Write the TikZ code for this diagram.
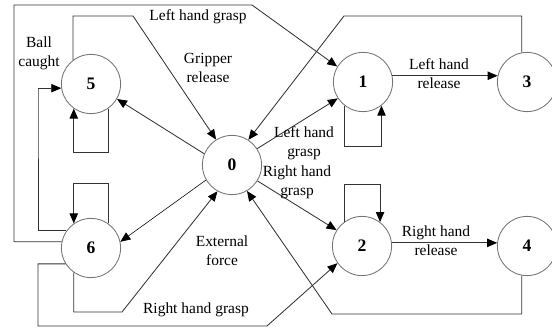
\documentclass[tikz,border=0pt]{standalone}
\usepackage{fontspec}
\setmainfont{Liberation Serif}
\usetikzlibrary{arrows.meta}
\begin{document}
\begin{tikzpicture}[x=0.025cm,y=-0.025cm,
	state/.style={draw=black!55,line width=0.6pt,circle,minimum size=1.48cm,inner sep=0pt,font=\fontsize{12.5}{14}\selectfont\bfseries},
	link/.style={draw=black!80,line width=0.6pt,-{Triangle[length=2.5mm,width=2.1mm,color=black]}},
	lbl/.style={align=center,font=\fontsize{11}{13.5}\selectfont}]
	\useasboundingbox (0,0) rectangle (552,329);
	% states
	\node[state] (s0) at (232,165) {0};
	\node[state] (s1) at (363,82) {1};
	\node[state] (s2) at (362,246) {2};
	\node[state] (s3) at (527,82) {3};
	\node[state] (s4) at (527,246) {4};
	\node[state] (s5) at (91,84) {5};
	\node[state] (s6) at (91,248) {6};
	% corners
	\coordinate (tl) at (14,5);
	\coordinate (tr) at (252,5);
	\coordinate (g1) at (133,16);
	\coordinate (b1) at (38,88);
	\coordinate (h1) at (122,312);
	\coordinate (r1) at (38,326);
	\coordinate (r2) at (267,326);
	\coordinate (f1) at (332,314);
	\coordinate (k1) at (344,16);
	% transitions
	\draw[link] (s6.168) -| (tl) -- (tr) -- (s1.149);
	\draw[link] (s5.127) |- (g1) -- (s0.122);
	\draw[link] (s0.158) -- (s5.-30);
	\draw[link] (s5.-55) -- ++(0,44) -| (s5.-125);
	\draw[link] (s6.145) -| (b1) |- (s5.188);
	\draw[link] (s6.55) -- ++(0,-40) -| (s6.125);
	\draw[link,draw=black,line width=0.4pt] (s0.210) -- (s6.12);
	\draw[link] (s6.-125) |- (h1) -- (s0.-119);
	\draw[link] (s6.-148) -| (r1) -- (r2) -- (s2.-145);
	\draw[link] (s4.-100) |- (f1) -- (s0.-60);
	\draw[link] (s3.100) |- (k1) -- (s0.57);
	\draw[link] (s0.33) -- (s1.-147);
	\draw[link] (s0.-32) -- (s2.148);
	\draw[link] (s1.-128) -- ++(0,41) -| (s1.-52);
	\draw[link] (s2.127) -- ++(0,-38) -| (s2.53);
	\draw[link] (s1.12) -- (s3.168);
	\draw[link] (s2.6) -- (s4.174);
	% labels
	\node[lbl] (tball) at (39,53) {Ball\\caught};
	\node[lbl] (tlgrasp) at (198,17) {Left hand grasp};
	\node[lbl] (tgrip) at (208,68) {Gripper\\release};
	\node[lbl] (tleft) at (304,143) {Left hand\\grasp};
	\node[lbl] (tright) at (297,182) {Right hand\\grasp};
	\node[lbl] (tforce) at (222,251) {External\\force};
	\node[lbl] (trgrasp) at (196,310) {Right hand grasp};
	\node[lbl] (tlrel) at (439,74) {Left hand\\release};
	\node[lbl] (trrel) at (436,241) {Right hand\\release};
\end{tikzpicture}
\end{document}
